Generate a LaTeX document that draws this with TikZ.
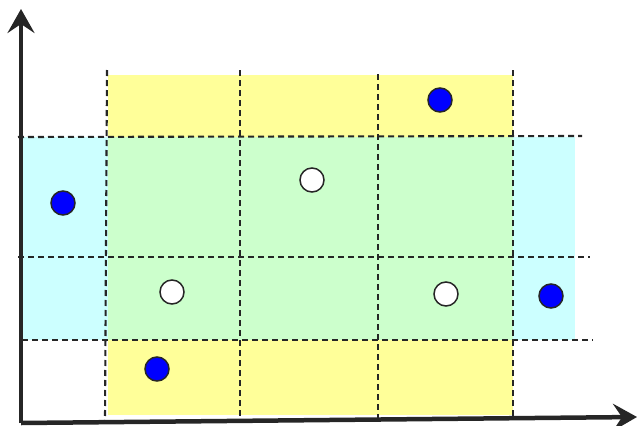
\documentclass[tikz,border=0pt]{standalone}
\usetikzlibrary{arrows.meta}
\definecolor{bandyellow}{HTML}{FFFF99}
\definecolor{bandcyan}{HTML}{CCFFFF}
\definecolor{bandgreen}{HTML}{CCFFCC}
\definecolor{inkgray}{HTML}{262626}
\begin{document}
\begin{tikzpicture}[x=1pt, y=-1pt,
        grid line/.style={draw=inkgray, line width=2.1pt, dash pattern=on 6pt off 4pt},
        axis/.style={draw=inkgray, line width=4.5pt, -{Stealth[length=24pt, width=27pt, inset=9pt]}},
        dot/.style={circle, draw=inkgray, line width=1.5pt, minimum size=24pt, inner sep=0pt},
        hit/.style={dot, fill=blue},
        miss/.style={dot, fill=white}
    ]
    \useasboundingbox (0,0) rectangle (638,426);

    % bands
    \fill[bandyellow] (108,75) rectangle (513,415);
    \fill[bandcyan] (22,137) rectangle (575,340);
    \fill[bandgreen] (108,137) rectangle (513,340);

    % grid
    \draw[grid line] (107,70) -- (105,420);
    \draw[grid line] (240,70) -- (240,418);
    \draw[grid line] (378,74) -- (378,418);
    \draw[grid line] (513,70) -- (513,418);
    \draw[grid line] (18,137) -- (582,136);
    \draw[grid line] (18,257) -- (590,257);
    \draw[grid line] (22,340) -- (593,340);

    % axes
    \coordinate (origin) at (21,423);
    \coordinate (ytip) at (21,9);
    \coordinate (xtip) at (637,417);
    \draw[axis] (origin) -- (ytip);
    \draw[axis] (origin) -- (xtip);

    % points
    \node[hit] (p1) at (440,100) {};
    \node[hit] (p2) at (63,203) {};
    \node[hit] (p3) at (551,296) {};
    \node[hit] (p4) at (157,369) {};
    \node[miss] (q1) at (312,180) {};
    \node[miss] (q2) at (172,292) {};
    \node[miss] (q3) at (446,294) {};
\end{tikzpicture}
\end{document}
